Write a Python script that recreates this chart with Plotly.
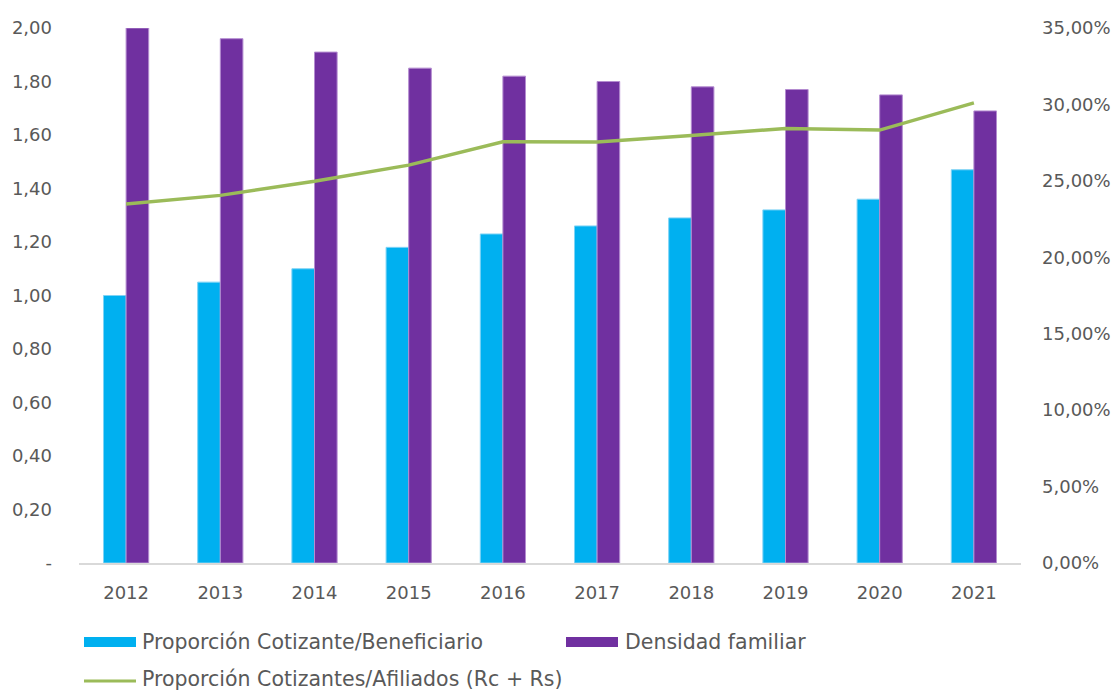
import plotly.graph_objects as go

years = ["2012", "2013", "2014", "2015", "2016", "2017", "2018", "2019", "2020", "2021"]
prop_cot_benef = [1.00, 1.05, 1.10, 1.18, 1.23, 1.26, 1.29, 1.32, 1.36, 1.47]
densidad_familiar = [2.00, 1.96, 1.91, 1.85, 1.82, 1.80, 1.78, 1.77, 1.75, 1.69]
prop_cot_afil = [0.2349, 0.2405, 0.2497, 0.2603, 0.2756, 0.2754, 0.2797, 0.2843, 0.2832, 0.3010]

left_ticks = [0, 0.2, 0.4, 0.6, 0.8, 1.0, 1.2, 1.4, 1.6, 1.8, 2.0]
left_labels = ["-", "0,20", "0,40", "0,60", "0,80", "1,00", "1,20", "1,40", "1,60", "1,80", "2,00"]
right_ticks = [0, 0.05, 0.10, 0.15, 0.20, 0.25, 0.30, 0.35]
right_labels = ["0,00%", "5,00%", "10,00%", "15,00%", "20,00%", "25,00%", "30,00%", "35,00%"]

names = ["Proporción Cotizante/Beneficiario", "Densidad familiar", "Proporción Cotizantes/Afiliados (Rc + Rs)"]
CYAN = "#00B0F0"
PURPLE = "#7030A0"
GREEN = "#9BBB59"
FONT = "DejaVu Sans"
TXT = "#595959"
FS = 18
LFS = 20.5

fig = go.Figure()
fig.add_trace(go.Bar(x=years, y=prop_cot_benef, name=names[0], marker=dict(color=CYAN, line=dict(color="#7FD3F5", width=1))))
fig.add_trace(go.Bar(x=years, y=densidad_familiar, name=names[1], marker=dict(color=PURPLE, line=dict(color="#B48CD0", width=1))))
fig.add_trace(go.Scatter(x=years, y=prop_cot_afil, name=names[2], yaxis="y2", mode="lines",
                         line=dict(color=GREEN, width=3.5)))

W, H = 1112, 692
L, R, T, B = 79, 91, 28, 129
pw, ph = W - L - R, H - T - B

def px(x):
    return (x - L) / pw

def py(y):
    return (H - B - y) / ph

shapes = [
    dict(type="rect", xref="paper", yref="paper", x0=px(84), x1=px(136), y0=py(647), y1=py(637),
         fillcolor=CYAN, line=dict(width=0)),
    dict(type="rect", xref="paper", yref="paper", x0=px(566), x1=px(618), y0=py(647), y1=py(637),
         fillcolor=PURPLE, line=dict(width=0)),
    dict(type="line", xref="paper", yref="paper", x0=px(84), x1=px(136), y0=py(681), y1=py(681),
         line=dict(color=GREEN, width=3)),
]
annotations = [
    dict(xref="paper", yref="paper", x=px(140), y=py(642), text=names[0], showarrow=False,
         xanchor="left", yanchor="middle", font=dict(family=FONT, size=LFS, color=TXT)),
    dict(xref="paper", yref="paper", x=px(623), y=py(642), text=names[1], showarrow=False,
         xanchor="left", yanchor="middle", font=dict(family=FONT, size=LFS, color=TXT)),
    dict(xref="paper", yref="paper", x=px(140), y=py(679), text=names[2], showarrow=False,
         xanchor="left", yanchor="middle", font=dict(family=FONT, size=LFS, color=TXT)),
]

fig.update_layout(
    width=W, height=H,
    margin=dict(l=L, r=R, t=T, b=B, autoexpand=False),
    paper_bgcolor="white", plot_bgcolor="white",
    barmode="group", bargap=0.52, bargroupgap=0,
    showlegend=False,
    font=dict(family=FONT, size=FS, color=TXT),
    xaxis=dict(showgrid=False, showline=True, linecolor="#D9D9D9", linewidth=2, automargin=False,
               ticks="", ticklabelstandoff=12, tickfont=dict(size=FS, color=TXT)),
    yaxis=dict(range=[0, 2.0], tickvals=left_ticks, ticktext=left_labels, showgrid=False,
               zeroline=False, showline=False, ticks="", ticklabelstandoff=26, automargin=False,
               tickfont=dict(size=FS, color=TXT)),
    yaxis2=dict(range=[0, 0.35], tickvals=right_ticks, ticktext=right_labels, overlaying="y",
                side="right", showgrid=False, zeroline=False, showline=False, ticks="",
                ticklabelstandoff=20, automargin=False, tickfont=dict(size=FS, color=TXT)),
    shapes=shapes, annotations=annotations,
)

fig.write_html("out.html", config={"displayModeBar": False},
               post_script="document.body.style.margin='0';document.body.style.overflow='hidden';")
